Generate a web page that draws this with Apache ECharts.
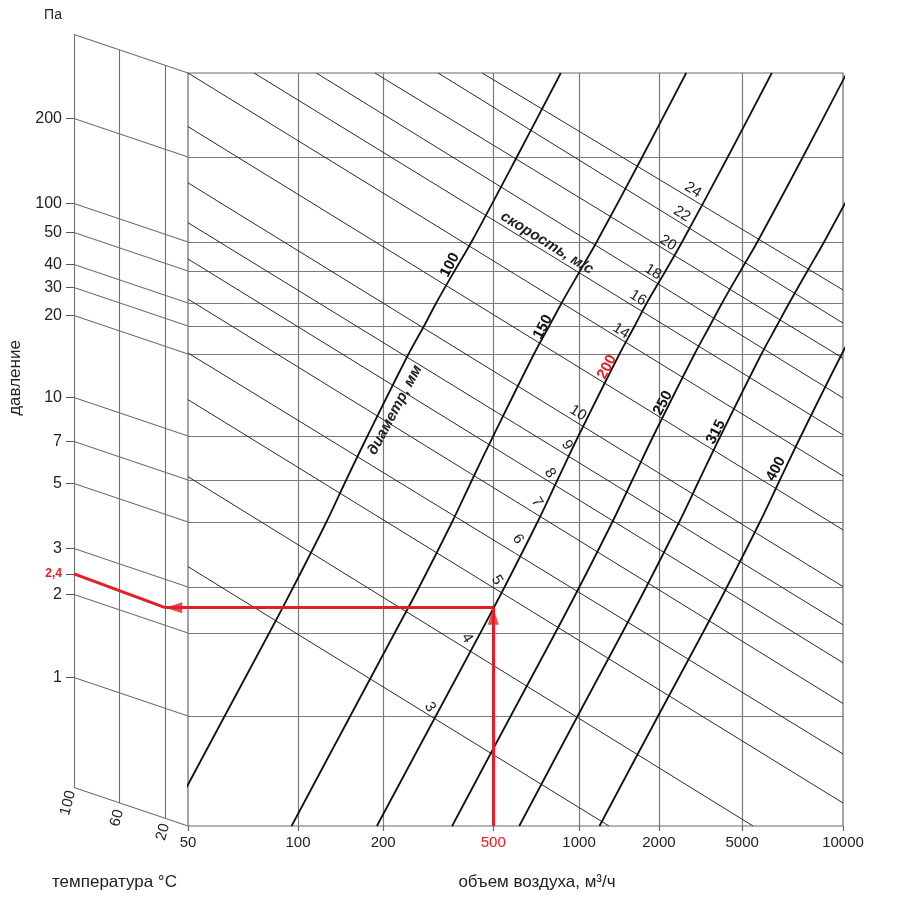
<!DOCTYPE html>
<html>
<head>
<meta charset="utf-8">
<title>Номограмма: давление и объем воздуха</title>
<script src="https://cdn.jsdelivr.net/npm/echarts@6.0.0/dist/echarts.min.js"></script>
<style>
  html, body { margin: 0; padding: 0; background: #fff; }
  #chart { width: 900px; height: 900px; }
</style>
</head>
<body>
<div id="chart"></div>
<script>
// Duct sizing nomogram: air volume vs. pressure with constant-velocity
// lines, duct diameter curves and a temperature correction panel.
// Both printed scales are hand-drawn and irregular, so each axis is a
// piecewise-log scale pinned at its printed ticks.

// --- scales ---------------------------------------------------------
const flowTicks = [50, 100, 200, 500, 1000, 2000, 5000, 10000];
const flowTickAt = [0, 16.8, 29.8, 46.6, 59.7, 71.9, 84.6, 100]; // % of axis length

const pressureLevels = [400, 200, 100, 50, 40, 30, 20, 10, 7, 5, 3, 2, 1, 0.5];
const pressureLevelAt = [0, 11.16, 22.44, 26.29, 30.54, 33.6, 37.32, 48.21, 54.05, 59.63, 68.26, 74.37, 85.39, 100];
const pressureTicks = [200, 100, 50, 40, 30, 20, 10, 7, 5, 3, 2, 1];

const tempTicks = [100, 60, 20];
const tempSlant = 5.11; // rise of a pressure line from 0 to 100 °C, % of height

// --- constant-velocity lines, m/s: [flow, pressure] where each one enters / leaves the plot
const velocities = [3, 4, 5, 6, 7, 8, 9, 10, 12, 14, 16, 18, 20, 22, 24];
const velocityFrom = [
  [50, 3.52], [50, 7.19], [50, 13.6], [50, 20.3], [50, 41.1], [50, 66.6], [50, 117], [50, 162],
  [50, 257], [50, 400], [75.8, 400], [116, 400], [187, 400], [316, 400], [456, 400]
];
const velocityTo = [
  [1297, 0.5], [5390, 0.5], [10000, 0.578], [10000, 0.787], [10000, 1.11], [10000, 1.56], [10000, 2.15],
  [10000, 3.01], [10000, 4.7], [10000, 7.23], [10000, 10.1], [10000, 13.8], [10000, 19.3], [10000, 31.1], [10000, 43.8]
];

// --- duct diameter curves, mm: air volume at each of pressureLevels
const diameters = [100, 150, 200, 250, 315, 400];
const flowD100 = [863, 605, 417, 362, 311, 281, 247, 176, 148, 126, 97.1, 83.4, 63.0, 43.5];
const flowD150 = [2700, 1730, 1165, 1008, 869, 786, 695, 500, 419, 355, 270, 220, 153, 96.0];
const flowD200 = [6130, 4270, 2580, 2150, 1800, 1620, 1420, 995, 840, 715, 548, 449, 310, 190];
const flowD250 = [10260, 7590, 5550, 4910, 4010, 3500, 2960, 1905, 1588, 1335, 1003, 825, 576, 355];
const flowD315 = [16240, 12010, 8780, 7830, 6910, 6340, 5710, 3940, 3120, 2500, 1792, 1453, 989, 617];
const flowD400 = [28220, 20870, 15260, 13610, 12000, 11020, 9920, 7490, 6480, 5650, 4230, 3240, 1985, 1194];

// --- worked example (red)
const exampleFlow = 500;
const examplePressure = 2.5;
const exampleTemp = 20;
const exampleReading = 2.4;

const RED = '#e41e26';
const FONT = '"Liberation Sans", Arial, sans-serif';

function flowPos(q) {
  const lt = flowTicks.map(Math.log10);
  const lq = Math.log10(q);
  let i = 0;
  while (i < lt.length - 2 && lq > lt[i + 1]) i++;
  return flowTickAt[i] + (lq - lt[i]) / (lt[i + 1] - lt[i]) * (flowTickAt[i + 1] - flowTickAt[i]);
}

function pressurePos(p) {
  const lv = pressureLevels.map(Math.log10);
  const lp = Math.log10(p);
  let i = 0;
  while (i < lv.length - 2 && lp < lv[i + 1]) i++;
  return pressureLevelAt[i] + (lv[i] - lp) / (lv[i] - lv[i + 1]) * (pressureLevelAt[i + 1] - pressureLevelAt[i]);
}

function nearest(values, v) {
  let best = 0;
  values.forEach((x, i) => { if (Math.abs(x - v) < Math.abs(values[best] - v)) best = i; });
  return best;
}

function segments(xi, coords, color, width, z) {
  return {
    type: 'lines', coordinateSystem: 'cartesian2d', xAxisIndex: xi, yAxisIndex: xi,
    polyline: false, silent: true, z,
    lineStyle: { color, width, opacity: 1 },
    data: coords.map((c) => ({ coords: c }))
  };
}

function arrowHead(xi, point, rotate, offset) {
  return {
    type: 'scatter', xAxisIndex: xi, yAxisIndex: xi, silent: true, z: 7,
    symbol: 'triangle', symbolSize: [11, 17], symbolRotate: rotate, symbolOffset: offset,
    itemStyle: { color: RED }, data: [point]
  };
}

const flowTickVals = flowTicks.map(flowPos);
const leftTickP = pressureTicks.concat([exampleReading]);
const leftTickVals = leftTickP.map((p) => pressurePos(p) - tempSlant);

const mainGridLines = [
  ...flowTicks.slice(1, -1).map((q) => [[flowPos(q), 0], [flowPos(q), 100]]),
  ...pressureTicks.map((p) => [[0, pressurePos(p)], [100, pressurePos(p)]])
];
const velocityLines = velocities.map((v, i) => [
  [flowPos(velocityFrom[i][0]), pressurePos(velocityFrom[i][1])],
  [flowPos(velocityTo[i][0]), pressurePos(velocityTo[i][1])]
]);
const panelLines = [
  ...tempTicks.map((t) => [[t, -tempSlant * t / 100], [t, 100 - tempSlant * t / 100]]),
  ...pressureLevels.map((p) => [[100, pressurePos(p) - tempSlant], [0, pressurePos(p)]])
];

const diameterSeries = [flowD100, flowD150, flowD200, flowD250, flowD315, flowD400].map((flows, k) => ({
  type: 'line', name: diameters[k] + ' мм', xAxisIndex: 0, yAxisIndex: 0,
  data: flows.map((q, i) => [flowPos(q), pressurePos(pressureLevels[i])]),
  smooth: 0.35, symbol: 'none', clip: true, silent: true, z: 4,
  lineStyle: { color: '#111', width: 1.8 }
}));

const yEx = pressurePos(examplePressure);
const xEx = flowPos(exampleFlow);

// --- text placed on the sheet (pixels)
function text(str, x, y, size, opts = {}) {
  return {
    type: 'text', x, y, rotation: (opts.rot || 0) * Math.PI / 180, z: 10, silent: true,
    style: {
      text: str, fill: opts.color || '#222', align: opts.align || 'center', verticalAlign: 'middle',
      font: `${opts.italic ? 'italic ' : ''}${opts.bold ? 'bold ' : ''}${size}px ${FONT}`
    }
  };
}
const velocityLabelAt = {
  3: [430, 707], 4: [467, 638], 5: [497, 580], 6: [518, 539], 7: [537, 502], 8: [550, 473], 9: [567, 445],
  10: [578, 413], 14: [621, 331], 16: [638, 298], 18: [653, 272], 20: [668, 243], 22: [682, 214], 24: [693, 190]
};
const diameterLabelAt = [[450, 265], [543, 327], [607, 367], [663, 403], [716, 432], [776, 469]];
const tempLabelAt = [[68, 803], [117, 818], [163, 832]];

const graphics = [
  text('Па', 53, 15, 14),
  text('давление', 15, 378, 17, { rot: 90 }),
  text('температура °C', 52, 882, 17, { align: 'left' }),
  text('объем воздуха, м³/ч', 537, 882, 17),
  text('диаметр, мм', 395, 410, 15, { rot: 62, bold: true, italic: true }),
  text('скорость, м/с', 547, 243, 15, { rot: -31.6, bold: true, italic: true }),
  ...tempTicks.map((t, i) => text(String(t), tempLabelAt[i][0], tempLabelAt[i][1], 15, { rot: 75 })),
  ...Object.keys(velocityLabelAt).map((v) => text(v, velocityLabelAt[v][0], velocityLabelAt[v][1], 15,
    { rot: +v < 10 ? -58 : -32 })),
  ...diameters.map((d, i) => text(String(d), diameterLabelAt[i][0], diameterLabelAt[i][1], 15,
    { rot: 62, bold: true, color: d === 200 ? RED : '#111' }))
];

const chart = echarts.init(document.getElementById('chart'), null, { renderer: 'canvas' });
chart.setOption({
  animation: false,
  backgroundColor: '#fff',
  grid: [
    { left: 188, top: 73, width: 655, height: 753, show: true, borderColor: '#6a6a6a', borderWidth: 1.2, backgroundColor: 'transparent' },
    { left: 74, top: 34.5, width: 114, height: 791.5 }
  ],
  xAxis: [
    {
      gridIndex: 0, type: 'value', min: 0, max: 100,
      axisLine: { show: false, onZero: false }, splitLine: { show: false },
      axisTick: { show: true, customValues: flowTickVals, length: 5, lineStyle: { color: '#6a6a6a', width: 1.2 } },
      axisLabel: {
        customValues: flowTickVals, showMinLabel: true, showMaxLabel: true, margin: 9,
        fontSize: 15, color: '#222', fontFamily: FONT,
        formatter: (v) => {
          const q = flowTicks[nearest(flowTickVals, v)];
          return q === exampleFlow ? `{red|${q}}` : String(q);
        },
        rich: { red: { color: RED, fontSize: 15, fontFamily: FONT } }
      }
    },
    { gridIndex: 1, type: 'value', min: 0, max: 100, inverse: true, show: false }
  ],
  yAxis: [
    { gridIndex: 0, type: 'value', min: 0, max: 100, inverse: true, show: false },
    {
      gridIndex: 1, type: 'value', min: -tempSlant, max: 100, inverse: true, position: 'left',
      axisLine: { show: false, onZero: false }, splitLine: { show: false },
      axisTick: { show: true, customValues: leftTickVals, length: 8, lineStyle: { color: '#555', width: 1 } },
      axisLabel: {
        customValues: leftTickVals, margin: 12, fontSize: 16, color: '#222', fontFamily: FONT,
        formatter: (v) => {
          const p = leftTickP[nearest(leftTickVals, v)];
          return p === exampleReading ? `{red|${String(p).replace('.', ',')}}` : String(p);
        },
        rich: { red: { color: RED, fontSize: 12, fontWeight: 'bold', fontFamily: FONT } }
      }
    }
  ],
  series: [
    segments(0, mainGridLines, '#7a7a7a', 1.2, 1),
    segments(0, velocityLines, '#2b2b2b', 1, 2),
    segments(1, panelLines, '#6f6f6f', 1.1, 1),
    ...diameterSeries,
    segments(0, [
      [[xEx, 100], [xEx, yEx]],
      [[xEx, yEx], [0, yEx]]
    ], RED, 3, 6),
    segments(1, [
      [[0, yEx], [exampleTemp, yEx]],
      [[exampleTemp, yEx], [100, pressurePos(exampleReading) - tempSlant]]
    ], RED, 3, 6),
    arrowHead(0, [xEx, yEx], 0, [0, 8.5]),
    arrowHead(1, [exampleTemp, yEx], 90, [8.5, 0])
  ],
  graphic: graphics
});
</script>
</body>
</html>
